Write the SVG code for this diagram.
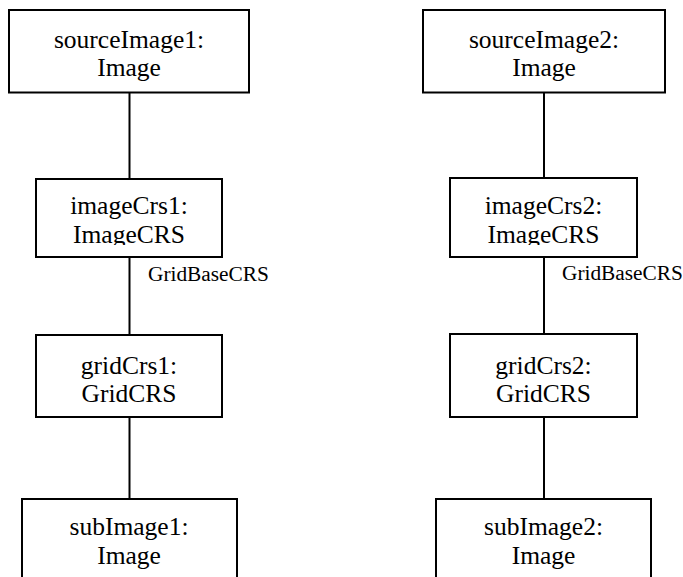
<svg xmlns="http://www.w3.org/2000/svg" width="683" height="577" viewBox="0 0 683 577">
<style>
.box{fill:#fff;stroke:#000;stroke-width:2}
.conn line{stroke:#000;stroke-width:2}
.t{font-family:"Liberation Serif","Times New Roman",serif;font-size:25.5px;fill:#000;text-anchor:middle}
.lbl{font-family:"Liberation Serif","Times New Roman",serif;font-size:21.33px;fill:#000}
</style>
<defs>
<clipPath id="c1"><rect x="36" y="179" width="186" height="66"/></clipPath>
<clipPath id="c2"><rect x="450" y="178" width="187" height="67"/></clipPath>
</defs>
<rect width="683" height="577" fill="#fff"/>
<g class="conn" id="connectors">
<line x1="129.5" y1="93" x2="129.5" y2="179"/>
<line x1="129.5" y1="257" x2="129.5" y2="335"/>
<line x1="129.5" y1="417" x2="129.5" y2="499"/>
<line x1="544" y1="93" x2="544" y2="178"/>
<line x1="544" y1="257" x2="544" y2="334"/>
<line x1="544" y1="417" x2="544" y2="499"/>
<text class="lbl" x="148" y="281">GridBaseCRS</text>
<text class="lbl" x="562" y="280">GridBaseCRS</text>
</g>
<g id="sourceImage1">
<rect class="box" x="9" y="10" width="240" height="82.5"/>
<text class="t"><tspan x="129" y="47.9">sourceImage1:</tspan><tspan x="129" y="76.2">Image</tspan></text>
</g>
<g id="imageCrs1">
<rect class="box" x="36" y="179" width="186" height="78"/>
<text class="t" clip-path="url(#c1)"><tspan x="129" y="214.4">imageCrs1:</tspan><tspan x="129" y="242.7">ImageCRS</tspan></text>
</g>
<g id="gridCrs1">
<rect class="box" x="36" y="335" width="186" height="82"/>
<text class="t"><tspan x="129" y="373.9">gridCrs1:</tspan><tspan x="129" y="402.2">GridCRS</tspan></text>
</g>
<g id="subImage1">
<rect class="box" x="22" y="499" width="215" height="90"/>
<text class="t"><tspan x="129" y="535.4">subImage1:</tspan><tspan x="129" y="563.7">Image</tspan></text>
</g>
<g id="sourceImage2">
<rect class="box" x="423" y="10" width="242" height="82.5"/>
<text class="t"><tspan x="544" y="47.9">sourceImage2:</tspan><tspan x="544" y="76.2">Image</tspan></text>
</g>
<g id="imageCrs2">
<rect class="box" x="450" y="178" width="187" height="79"/>
<text class="t" clip-path="url(#c2)"><tspan x="543.5" y="214.4">imageCrs2:</tspan><tspan x="543.5" y="242.7">ImageCRS</tspan></text>
</g>
<g id="gridCrs2">
<rect class="box" x="450" y="334" width="187" height="83"/>
<text class="t"><tspan x="543.5" y="373.9">gridCrs2:</tspan><tspan x="543.5" y="402.2">GridCRS</tspan></text>
</g>
<g id="subImage2">
<rect class="box" x="436" y="499" width="215" height="90"/>
<text class="t"><tspan x="543.5" y="535.4">subImage2:</tspan><tspan x="543.5" y="563.7">Image</tspan></text>
</g>
</svg>
